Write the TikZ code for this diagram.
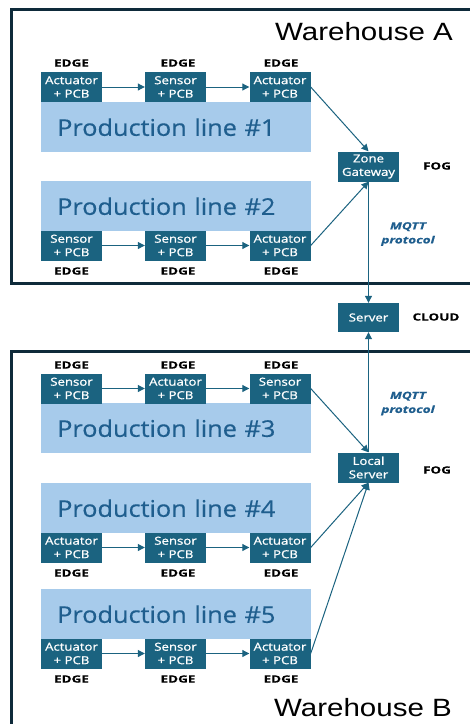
\documentclass[tikz,border=0pt]{standalone}
\usepackage{fontspec}
\setmainfont{Open Sans}
\newfontfamily\devfont{Open Sans}[FakeStretch=1.2,FakeBold=1]
\newfontfamily\lblfont{Open Sans}[FakeStretch=1.35,FakeBold=0.5]
\newfontfamily\bandfont{Open Sans}[FakeStretch=1.1,FakeBold=0.4]
\newfontfamily\titlefont{Liberation Sans}[FakeStretch=1.18]
\usetikzlibrary{arrows.meta}
\definecolor{boxc}{HTML}{1B6380}
\definecolor{bandc}{HTML}{A7CBEB}
\definecolor{bandtxt}{HTML}{1F5E8E}
\definecolor{framec}{HTML}{0E2A3A}
\definecolor{mqttc}{HTML}{1F5E8E}
\tikzset{
  dev/.style={fill=boxc, text=white, minimum width=61pt, minimum height=30pt, inner sep=0pt, align=center, font=\devfont\fontsize{11}{13.5}\selectfont},
  band/.style={fill=bandc, text=bandtxt, minimum width=270pt, minimum height=50pt, inner sep=0pt, anchor=north west, font=\bandfont\fontsize{23}{26}\selectfont, text width=270pt, align=left},
  lbl/.style={font=\lblfont\fontsize{10}{11}\selectfont\bfseries, text=black, inner sep=0pt},
  conn/.style={draw=boxc, line width=1pt, -{Triangle[length=7pt,width=7pt]}},
  frame/.style={draw=framec, line width=3pt},
  mqtt/.style={font=\lblfont\fontsize{10}{14}\selectfont\bfseries\itshape, text=mqttc, align=center, inner sep=0pt},
  title/.style={font=\titlefont\fontsize{25}{27}\selectfont, text=black, inner sep=0pt}
}
\begin{document}
\begin{tikzpicture}[x=1pt,y=-1pt]
\useasboundingbox (0,0) rectangle (470,724);
\clip (0,0) rectangle (470,724);
\fill[white] (0,0) rectangle (470,724);
% frames
\draw[frame] (11,9) rectangle (490,283);
\draw[frame] (11,351) rectangle (490,740);
\node[title] (wa) at (364,32) {Warehouse A};
\node[title] (wb) at (363,708) {Warehouse B};
% bands
\node[band] (b1) at (41,102) {\hspace*{16pt}Production line \#1};
\node[band] (b2) at (41,181) {\hspace*{16pt}Production line \#2};
\node[band] (b3) at (41,403) {\hspace*{16pt}Production line \#3};
\node[band] (b4) at (41,483) {\hspace*{16pt}Production line \#4};
\node[band] (b5) at (41,589) {\hspace*{16pt}Production line \#5};
% row 1
\node[dev] (r1a) at (71.5,87) {Actuator\\+ PCB};
\node[dev] (r1b) at (175.5,87) {Sensor\\+ PCB};
\node[dev] (r1c) at (280,87) {Actuator\\+ PCB};
\node[lbl] (l1a) at (71.5,63) {EDGE};
\node[lbl] (l1b) at (178,63) {EDGE};
\node[lbl] (l1c) at (281,63) {EDGE};
% row 2
\node[dev] (r2a) at (71.5,245.5) {Sensor\\+ PCB};
\node[dev] (r2b) at (175.5,245.5) {Sensor\\+ PCB};
\node[dev] (r2c) at (280,245.5) {Actuator\\+ PCB};
\node[lbl] (l2a) at (71.5,271) {EDGE};
\node[lbl] (l2b) at (178,271) {EDGE};
\node[lbl] (l2c) at (281,271) {EDGE};
% row 3
\node[dev] (r3a) at (71.5,388.5) {Sensor\\+ PCB};
\node[dev] (r3b) at (175.5,388.5) {Actuator\\+ PCB};
\node[dev] (r3c) at (280,388.5) {Sensor\\+ PCB};
\node[lbl] (l3a) at (71.5,365) {EDGE};
\node[lbl] (l3b) at (178,365) {EDGE};
\node[lbl] (l3c) at (281,365) {EDGE};
% row 4
\node[dev] (r4a) at (71.5,547.5) {Actuator\\+ PCB};
\node[dev] (r4b) at (175.5,547.5) {Sensor\\+ PCB};
\node[dev] (r4c) at (280,547.5) {Actuator\\+ PCB};
\node[lbl] (l4a) at (71.5,573) {EDGE};
\node[lbl] (l4b) at (178,573) {EDGE};
\node[lbl] (l4c) at (281,573) {EDGE};
% row 5
\node[dev] (r5a) at (71.5,653.5) {Actuator\\+ PCB};
\node[dev] (r5b) at (175.5,653.5) {Sensor\\+ PCB};
\node[dev] (r5c) at (280,653.5) {Actuator\\+ PCB};
\node[lbl] (l5a) at (71.5,679) {EDGE};
\node[lbl] (l5b) at (178,679) {EDGE};
\node[lbl] (l5c) at (281,679) {EDGE};
% fog / cloud
\node[dev] (zg) at (368.5,166.5) {Zone\\Gateway};
\node[lbl] (fogA) at (437,166) {FOG};
\node[dev, minimum height=29pt] (srv) at (368.5,317.5) {Server};
\node[lbl] (cloud) at (436,317) {CLOUD};
\node[dev] (ls) at (368.5,467.5) {Local\\Server};
\node[lbl] (fogB) at (437,470) {FOG};
\node[mqtt] (mq1) at (408,234) {MQTT\\protocol};
\node[mqtt] (mq2) at (408,403.5) {MQTT\\protocol};
% connectors
\foreach \r in {1,...,5}{
  \draw[conn] (r\r a) -- (r\r b);
  \draw[conn] (r\r b) -- (r\r c);
}
\draw[conn] (r1c.east) -- (zg.north);
\draw[conn] (r2c.east) -- (zg.south);
\draw[conn] (zg.south) -- (srv.north);
\draw[conn] (ls.north) -- (srv.south);
\draw[conn] (r3c.east) -- (ls.north);
\draw[conn] (r4c.east) -- (ls.south);
\draw[conn] (r5c.east) -- (ls.south);
\end{tikzpicture}
\end{document}
